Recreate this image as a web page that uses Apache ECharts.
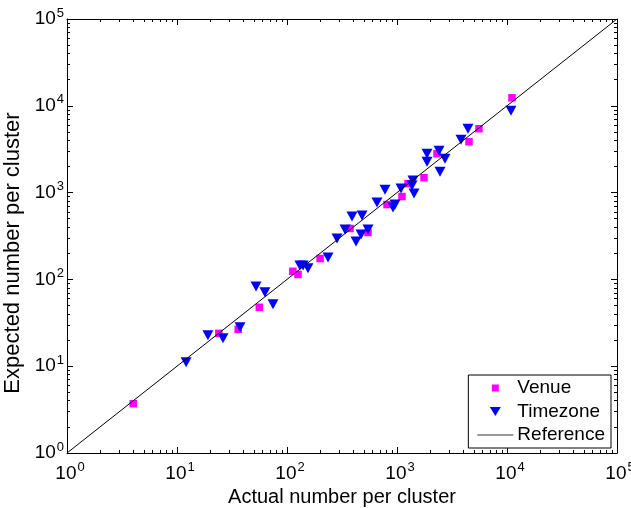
<!DOCTYPE html>
<html><head><meta charset="utf-8">
<script src="https://cdn.jsdelivr.net/npm/echarts@6/dist/echarts.min.js"></script>
<style>html,body{margin:0;padding:0;background:#fff}#c{width:631px;height:508px}</style>
</head><body><div id="c"></div>
<script>
// ---- data ----
const venueX = [4, 24, 36, 56, 113, 126, 200, 374, 545, 811, 1110, 1259, 1760, 2311, 4515, 5563, 11100];
const venueY = [3.7, 23.9, 26.6, 47.7, 124, 114, 174, 386, 347, 728, 900, 1268, 1487, 2806, 3855, 5444, 12360];
const timezoneX = [12.1, 19.1, 26.2, 37.4, 52.3, 63, 74.6, 131, 140, 155, 236, 285, 337, 390, 481, 424, 471, 545, 658, 778, 920, 959, 1087, 1397, 1369, 1428, 1875, 1875, 2410, 2730, 2460, 3818, 4418, 10870];
const timezoneY = [11.1, 22.7, 21, 28.1, 83, 71, 51.6, 145, 145, 134, 179, 296, 376, 530, 544, 273, 329, 376, 767, 1082, 672, 728, 1112, 1374, 1204, 974, 2806, 2271, 3040, 2460, 1742, 4064, 5444, 8770];
const referenceX = [1, 100000];
const referenceY = [1, 100000];
const tickExponents = ['0', '1', '2', '3', '4', '5'];
const seriesNames = ['Venue', 'Timezone', 'Reference'];
const xAxisName = 'Actual number per cluster';
const yAxisName = 'Expected number per cluster';

// ---- build ----
const FONT = '"Liberation Sans", Arial, Helvetica, sans-serif';
const majorTicks = tickExponents.map(e => Math.pow(10, +e));
const minorTicks = [];
for (let k = 0; k < tickExponents.length - 1; k++) {
  for (let m = 2; m <= 9; m++) minorTicks.push(m * Math.pow(10, k));
}
const zip = (xs, ys) => xs.map((x, i) => [x, ys[i]]);
const labelFmt = v => '{b|10}{s|' + tickExponents[Math.round(Math.log10(v))] + '}';

function axis(dim, position, ticks, len, withLine, withLabel) {
  const a = {
    type: 'log', logBase: 10, min: 1, max: 100000, position: position,
    axisLine: { show: withLine, onZero: false, lineStyle: { color: '#000', width: 1 } },
    axisTick: { show: true, inside: true, length: len, customValues: ticks, lineStyle: { color: '#000', width: 1 } },
    axisLabel: { show: false },
    splitLine: { show: false },
    minorTick: { show: false }
  };
  if (withLabel) {
    a.axisLabel = {
      show: true, customValues: ticks, formatter: labelFmt, color: '#000',
      fontFamily: FONT,
      margin: dim === 'x' ? 8 : 3,
      rich: dim === 'x'
        ? { b: { fontSize: 19, fontFamily: FONT, color: '#000', padding: [0, 0, 0, 6] },
            s: { fontSize: 13, fontFamily: FONT, color: '#000', padding: [0, 0, 12, 1] } }
        : { b: { fontSize: 19, fontFamily: FONT, color: '#000' },
            s: { fontSize: 13, fontFamily: FONT, color: '#000', padding: [0, 0, 12, 1] } }
    };
  }
  return a;
}

const xMain = axis('x', 'bottom', majorTicks, 6, true, true);
xMain.name = xAxisName; xMain.nameLocation = 'middle'; xMain.nameGap = 32;
xMain.nameTextStyle = { fontSize: 20, fontFamily: FONT, color: '#000' };
const yMain = axis('y', 'left', majorTicks, 6, true, true);
yMain.name = yAxisName; yMain.nameLocation = 'middle'; yMain.nameGap = 36; yMain.nameRotate = 90;
yMain.nameTextStyle = { fontSize: 22, fontFamily: FONT, color: '#000', padding: [0, 34, 0, 0] };

const option = {
  backgroundColor: '#fff',
  animation: false,
  grid: { left: 67, top: 19, right: 14, bottom: 55, containLabel: false, outerBoundsMode: 'none' },
  xAxis: [
    xMain,
    axis('x', 'bottom', minorTicks, 3, false, false),
    axis('x', 'top', majorTicks, 6, true, false),
    axis('x', 'top', minorTicks, 3, false, false)
  ],
  yAxis: [
    yMain,
    axis('y', 'left', minorTicks, 3, false, false),
    axis('y', 'right', majorTicks, 6, true, false),
    axis('y', 'right', minorTicks, 3, false, false)
  ],
  legend: {
    orient: 'vertical', right: 20, bottom: 60,
    backgroundColor: '#fff', borderColor: '#000', borderWidth: 1, borderRadius: 0,
    padding: [3, 6, 3, 9],
    itemWidth: 36, itemHeight: 14, itemGap: 3.5,
    textStyle: { fontSize: 19, fontFamily: FONT, color: '#000', lineHeight: 20, padding: [0, 0, 0, -1] },
    data: [
      { name: seriesNames[0], icon: 'path://M0,0M14,14M3.5,3.5L10.5,3.5L10.5,10.5L3.5,10.5Z' },
      { name: seriesNames[1], icon: 'path://M0,0M14,14M1.5,2.5L12.5,2.5L7,11.5Z' },
      { name: seriesNames[2], icon: 'path://M0,0L36,0L36,1L0,1Z', itemStyle: { color: '#333' } }
    ]
  },
  series: [
    { name: seriesNames[0], type: 'scatter', xAxisIndex: 0, yAxisIndex: 0, data: zip(venueX, venueY),
      symbol: 'rect', symbolSize: 7.5, itemStyle: { color: '#ff00ff', opacity: 1 }, z: 3 },
    { name: seriesNames[1], type: 'scatter', xAxisIndex: 0, yAxisIndex: 0, data: zip(timezoneX, timezoneY),
      symbol: 'triangle', symbolSize: [11, 10], symbolRotate: 180, itemStyle: { color: '#0000ff', opacity: 1 }, z: 4 },
    { name: seriesNames[2], type: 'line', xAxisIndex: 0, yAxisIndex: 0, data: zip(referenceX, referenceY),
      symbol: 'none', lineStyle: { color: '#000', width: 1 }, itemStyle: { color: '#000' }, z: 5 }
  ]
};
const chart = echarts.init(document.getElementById('c'));
chart.setOption(option);
</script></body></html>
